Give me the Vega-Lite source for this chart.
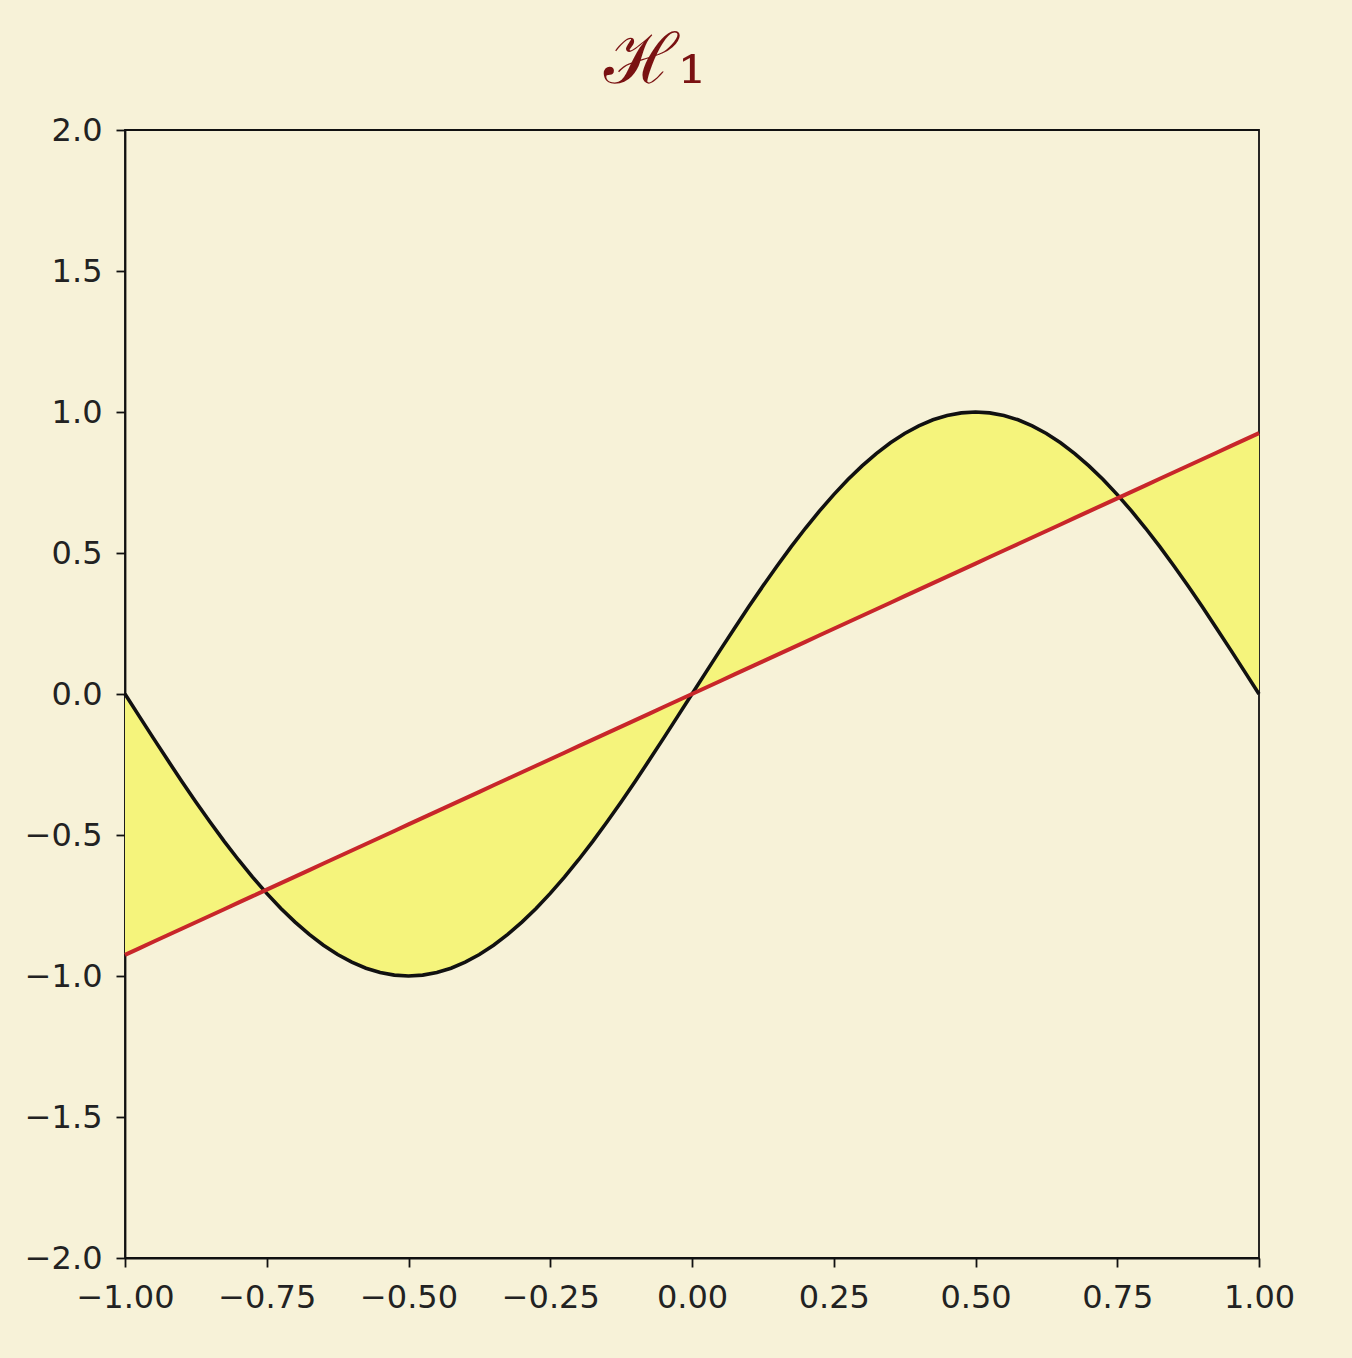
{
  "$schema": "https://vega.github.io/schema/vega-lite/v6.json",
  "width": 1134,
  "height": 1128,
  "autosize": {"type": "none"},
  "padding": {"left": 125, "top": 130, "right": 93, "bottom": 100},
  "background": "#f7f2d8",
  "title": {"text": "ℋ₁", "fontSize": 70, "font": "DejaVu Serif", "fontWeight": "normal", "color": "#7a1212", "offset": 16, "dx": -37, "anchor": "middle"},
  "config": {
    "view": {"stroke": "#111111", "strokeWidth": 1.8},
    "axis": {
      "grid": false,
      "domainColor": "#111111",
      "domainWidth": 1.8,
      "tickColor": "#111111",
      "tickWidth": 1.8,
      "tickSize": 9,
      "labelFont": "DejaVu Sans",
      "labelFontSize": 32,
      "labelColor": "#222222",
      "title": null
    }
  },
  "data": {
    "values": [
      {"x": -1, "f": 0, "h": -0.925},
      {"x": -0.975, "f": -0.07846, "h": -0.90188},
      {"x": -0.95, "f": -0.15643, "h": -0.87875},
      {"x": -0.925, "f": -0.23345, "h": -0.85563},
      {"x": -0.9, "f": -0.30902, "h": -0.8325},
      {"x": -0.875, "f": -0.38268, "h": -0.80938},
      {"x": -0.85, "f": -0.45399, "h": -0.78625},
      {"x": -0.825, "f": -0.5225, "h": -0.76313},
      {"x": -0.8, "f": -0.58779, "h": -0.74},
      {"x": -0.775, "f": -0.64945, "h": -0.71688},
      {"x": -0.75, "f": -0.70711, "h": -0.69375},
      {"x": -0.725, "f": -0.76041, "h": -0.67063},
      {"x": -0.7, "f": -0.80902, "h": -0.6475},
      {"x": -0.675, "f": -0.85264, "h": -0.62438},
      {"x": -0.65, "f": -0.89101, "h": -0.60125},
      {"x": -0.625, "f": -0.92388, "h": -0.57813},
      {"x": -0.6, "f": -0.95106, "h": -0.555},
      {"x": -0.575, "f": -0.97237, "h": -0.53188},
      {"x": -0.55, "f": -0.98769, "h": -0.50875},
      {"x": -0.525, "f": -0.99692, "h": -0.48563},
      {"x": -0.5, "f": -1, "h": -0.4625},
      {"x": -0.475, "f": -0.99692, "h": -0.43938},
      {"x": -0.45, "f": -0.98769, "h": -0.41625},
      {"x": -0.425, "f": -0.97237, "h": -0.39313},
      {"x": -0.4, "f": -0.95106, "h": -0.37},
      {"x": -0.375, "f": -0.92388, "h": -0.34688},
      {"x": -0.35, "f": -0.89101, "h": -0.32375},
      {"x": -0.325, "f": -0.85264, "h": -0.30063},
      {"x": -0.3, "f": -0.80902, "h": -0.2775},
      {"x": -0.275, "f": -0.76041, "h": -0.25438},
      {"x": -0.25, "f": -0.70711, "h": -0.23125},
      {"x": -0.225, "f": -0.64945, "h": -0.20813},
      {"x": -0.2, "f": -0.58779, "h": -0.185},
      {"x": -0.175, "f": -0.5225, "h": -0.16188},
      {"x": -0.15, "f": -0.45399, "h": -0.13875},
      {"x": -0.125, "f": -0.38268, "h": -0.11563},
      {"x": -0.1, "f": -0.30902, "h": -0.0925},
      {"x": -0.075, "f": -0.23345, "h": -0.06938},
      {"x": -0.05, "f": -0.15643, "h": -0.04625},
      {"x": -0.025, "f": -0.07846, "h": -0.02313},
      {"x": 0, "f": 0, "h": 0},
      {"x": 0.025, "f": 0.07846, "h": 0.02313},
      {"x": 0.05, "f": 0.15643, "h": 0.04625},
      {"x": 0.075, "f": 0.23345, "h": 0.06938},
      {"x": 0.1, "f": 0.30902, "h": 0.0925},
      {"x": 0.125, "f": 0.38268, "h": 0.11563},
      {"x": 0.15, "f": 0.45399, "h": 0.13875},
      {"x": 0.175, "f": 0.5225, "h": 0.16188},
      {"x": 0.2, "f": 0.58779, "h": 0.185},
      {"x": 0.225, "f": 0.64945, "h": 0.20813},
      {"x": 0.25, "f": 0.70711, "h": 0.23125},
      {"x": 0.275, "f": 0.76041, "h": 0.25438},
      {"x": 0.3, "f": 0.80902, "h": 0.2775},
      {"x": 0.325, "f": 0.85264, "h": 0.30063},
      {"x": 0.35, "f": 0.89101, "h": 0.32375},
      {"x": 0.375, "f": 0.92388, "h": 0.34688},
      {"x": 0.4, "f": 0.95106, "h": 0.37},
      {"x": 0.425, "f": 0.97237, "h": 0.39313},
      {"x": 0.45, "f": 0.98769, "h": 0.41625},
      {"x": 0.475, "f": 0.99692, "h": 0.43938},
      {"x": 0.5, "f": 1, "h": 0.4625},
      {"x": 0.525, "f": 0.99692, "h": 0.48563},
      {"x": 0.55, "f": 0.98769, "h": 0.50875},
      {"x": 0.575, "f": 0.97237, "h": 0.53188},
      {"x": 0.6, "f": 0.95106, "h": 0.555},
      {"x": 0.625, "f": 0.92388, "h": 0.57813},
      {"x": 0.65, "f": 0.89101, "h": 0.60125},
      {"x": 0.675, "f": 0.85264, "h": 0.62438},
      {"x": 0.7, "f": 0.80902, "h": 0.6475},
      {"x": 0.725, "f": 0.76041, "h": 0.67063},
      {"x": 0.75, "f": 0.70711, "h": 0.69375},
      {"x": 0.775, "f": 0.64945, "h": 0.71688},
      {"x": 0.8, "f": 0.58779, "h": 0.74},
      {"x": 0.825, "f": 0.5225, "h": 0.76313},
      {"x": 0.85, "f": 0.45399, "h": 0.78625},
      {"x": 0.875, "f": 0.38268, "h": 0.80938},
      {"x": 0.9, "f": 0.30902, "h": 0.8325},
      {"x": 0.925, "f": 0.23345, "h": 0.85563},
      {"x": 0.95, "f": 0.15643, "h": 0.87875},
      {"x": 0.975, "f": 0.07846, "h": 0.90188},
      {"x": 1, "f": 0, "h": 0.925}
    ]
  },
  "encoding": {
    "x": {
      "field": "x", "type": "quantitative",
      "scale": {"domain": [-1, 1], "nice": false, "zero": false},
      "axis": {"values": [-1, -0.75, -0.5, -0.25, 0, 0.25, 0.5, 0.75, 1], "format": ".2f", "labelPadding": 15, "labelFlush": false}
    }
  },
  "layer": [
    {
      "mark": {"type": "area", "color": "#f5f47c", "opacity": 1},
      "encoding": {
        "y": {"field": "f", "type": "quantitative",
          "scale": {"domain": [-2, 2], "nice": false, "zero": false},
          "axis": {"values": [-2, -1.5, -1, -0.5, 0, 0.5, 1, 1.5, 2], "format": ".1f", "labelPadding": 14, "labelFlush": false}},
        "y2": {"field": "h"}
      }
    },
    {
      "mark": {"type": "line", "color": "#111111", "strokeWidth": 3.6},
      "encoding": {"y": {"field": "f", "type": "quantitative"}}
    },
    {
      "mark": {"type": "line", "color": "#c8262a", "strokeWidth": 4},
      "encoding": {"y": {"field": "h", "type": "quantitative"}}
    }
  ]
}
